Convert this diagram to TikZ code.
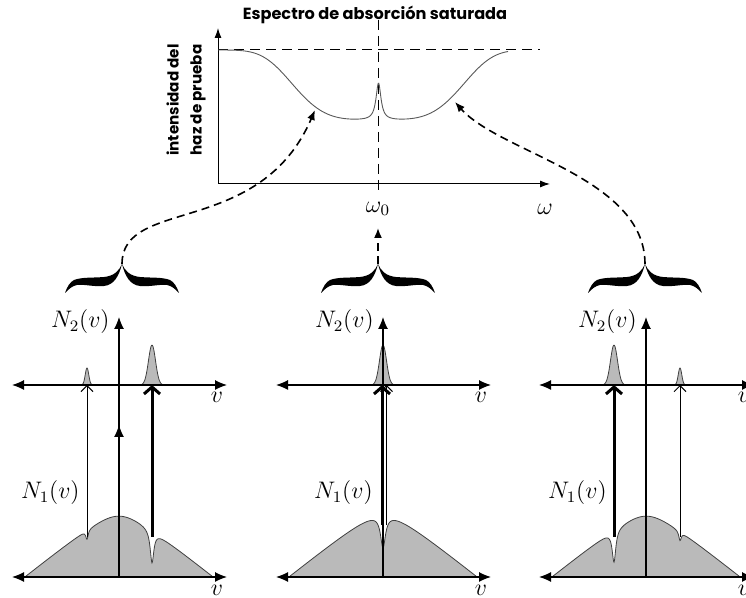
\documentclass[tikz,border=0pt]{standalone}
\usepackage{fontspec}
\usepackage{amsmath}
\usepackage{tikz}
\usetikzlibrary{arrows.meta, calc}
\newfontfamily\gotica{Poppins}

\begin{document}
\begin{tikzpicture}[
        x=0.5bp, y=0.5bp, % 1 unidad = 1 pixel de la figura
        declare function={sq(\u)=\u*\u;
            perfil(\u)=61-0.8*(sqrt(\u*\u+400)-20);
            hueco(\u,\m,\p,\q)=\p/(1+sq((\u-\m)/\q));
            pico(\u,\m,\p,\q)=\p*exp(-sq((\u-\m)/\q));},
        titulo/.style={font=\gotica\bfseries\fontsize{7.6}{11.5}\selectfont},
        etiq/.style={font=\fontsize{12}{14}\selectfont, inner sep=1bp},
        eje/.style={line width=0.6bp, {Latex[length=6bp,width=5bp]}-{Latex[length=6bp,width=5bp]}},
        ejev/.style={line width=0.6bp, -{Latex[length=6bp,width=5bp]}},
        ejesup/.style={line width=0.5bp, -{Latex[length=5bp,width=3.5bp]}},
        guia/.style={line width=0.5bp, dash pattern=on 5bp off 3bp},
        curva/.style={line width=0.45bp, black!65},
        poblacion/.style={fill=black!27, draw=black!75, line width=0.4bp},
        fina/.style={line width=0.5bp, -{Straight Barb[length=3bp,width=6bp]}},
        gruesa/.style={line width=1.5bp, -{Straight Barb[length=3.5bp,width=8bp]}},
        flecha/.style={line width=0.8bp, dash pattern=on 4bp off 2.5bp, -{Latex[length=5bp,width=4bp]}},
        llave/.pic={
            \foreach \s in {1,-1}
                \fill[xscale=\s] (0,0) .. controls (3,-7) and (8,-12) .. (18,-13)
                    .. controls (30,-14) and (40,-13) .. (48,-16)
                    .. controls (52,-18) and (55,-23) .. (57,-29)
                    .. controls (53,-25) and (50,-22) .. (45,-21)
                    .. controls (38,-20) and (28,-23) .. (18,-22)
                    .. controls (8,-21) and (3,-12) .. (0,0) -- cycle;
        }
        ]
        \useasboundingbox (0,0) rectangle (746,598);

        % Espectro de absorcion saturada (arriba)
        \node[titulo, font=\gotica\bfseries\fontsize{8.1}{10}\selectfont] (tit) at (375,583) {Espectro de absorción saturada};
        \node[titulo, rotate=90, align=center] (ylab) at (186,498) {intensidad del\\haz de prueba};
        \draw[ejesup] (218,414) -- (218,570);
        \draw[ejesup] (218,414) -- (550,414);
        \draw[guia] (218,548) -- (540,548);
        \draw[guia] (378,578) -- (378,406);
        \draw[curva] plot[domain=218:508, samples=600]
            (\x, {548 - 70*exp(-sq(sq((\x-378)/93))) + 37/(1+sq((\x-378.5)/3))});
        \node[etiq] (w0) at (378,389) {$\omega_0$};
        \node[etiq] (w) at (545,389) {$\omega$};

        % Llaves y flechas discontinuas
        \coordinate (ll1) at (122,334);
        \coordinate (ll2) at (378,334);
        \coordinate (ll3) at (645,334);
        \coordinate (pi) at (315,488);
        \coordinate (pc) at (378,370);
        \coordinate (pd) at (455,496);
        \pic at (ll1) {llave};
        \pic at (ll2) {llave};
        \pic at (ll3) {llave};
        \draw[flecha] (ll1) .. controls +(0,67) and +(-55,-128) .. (pi);
        \draw[flecha] (ll2) -- (pc);
        \draw[flecha] (ll3) .. controls +(0,87) and +(45,-51) .. (pd);

        % Panel izquierdo
        \begin{scope}[shift={(119,21)}]
            \filldraw[poblacion] plot[domain=-94:94, samples=380]
                (\x, {max(0, perfil(\x)-hueco(\x,-32,9,1.5)-hueco(\x,33,32,2.2))}) -- cycle;
            \filldraw[poblacion] plot[domain=-40:-24, samples=40] (\x, {192+pico(\x,-32,17,2.5)}) -- cycle;
            \filldraw[poblacion] plot[domain=17:49, samples=50] (\x, {192+pico(\x,33,40,5)}) -- cycle;
            \draw[eje] (-107,0) -- (108,0);
            \draw[eje] (-107,192) -- (108,192);
            \draw[ejev] (0,0) -- (0,152);
            \draw[ejev] (0,140) -- (0,260);
            \draw[fina] (-32,40) -- (-32,192);
            \draw[gruesa] (33,40) -- (33,192);
            \node[etiq, anchor=east] (n2a) at (-7,255) {$N_2(v)$};
            \node[etiq, anchor=east] (n1a) at (-37,84) {$N_1(v)$};
            \node[etiq] (v2a) at (98,180) {$v$};
            \node[etiq] (v1a) at (98,-13) {$v$};
        \end{scope}

        % Panel central
        \begin{scope}[shift={(383,21)}]
            \filldraw[poblacion] plot[domain=-94:94, samples=380]
                (\x, {max(0, perfil(\x)-hueco(\x,0,32,3))}) -- cycle;
            \filldraw[poblacion] plot[domain=-16:16, samples=50] (\x, {192+pico(\x,0,40,5)}) -- cycle;
            \draw[eje] (-107,0) -- (108,0);
            \draw[eje] (-107,192) -- (108,192);
            \draw[ejev] (0,0) -- (0,260);
            \draw[gruesa] (-1,52) -- (-1,192);
            \draw[fina] (3.5,52) -- (3.5,192);
            \node[etiq, anchor=east] (n2b) at (-7,255) {$N_2(v)$};
            \node[etiq, anchor=east] (n1b) at (-8,84) {$N_1(v)$};
            \node[etiq] (v2b) at (98,180) {$v$};
            \node[etiq] (v1b) at (98,-13) {$v$};
        \end{scope}

        % Panel derecho
        \begin{scope}[shift={(646,21)}]
            \filldraw[poblacion] plot[domain=-94:94, samples=380]
                (\x, {max(0, perfil(\x)-hueco(\x,-32,32,2.2)-hueco(\x,34,9,1.5))}) -- cycle;
            \filldraw[poblacion] plot[domain=-48:-16, samples=50] (\x, {192+pico(\x,-32,40,5)}) -- cycle;
            \filldraw[poblacion] plot[domain=26:42, samples=40] (\x, {192+pico(\x,34,17,2.5)}) -- cycle;
            \draw[eje] (-107,0) -- (108,0);
            \draw[eje] (-107,192) -- (108,192);
            \draw[ejev] (0,0) -- (0,260);
            \draw[gruesa] (-32,40) -- (-32,192);
            \draw[fina] (34,40) -- (34,192);
            \node[etiq, anchor=east] (n2c) at (-7,255) {$N_2(v)$};
            \node[etiq, anchor=east] (n1c) at (-37,84) {$N_1(v)$};
            \node[etiq] (v2c) at (98,180) {$v$};
            \node[etiq] (v1c) at (98,-13) {$v$};
        \end{scope}
    \end{tikzpicture}
\end{document}
